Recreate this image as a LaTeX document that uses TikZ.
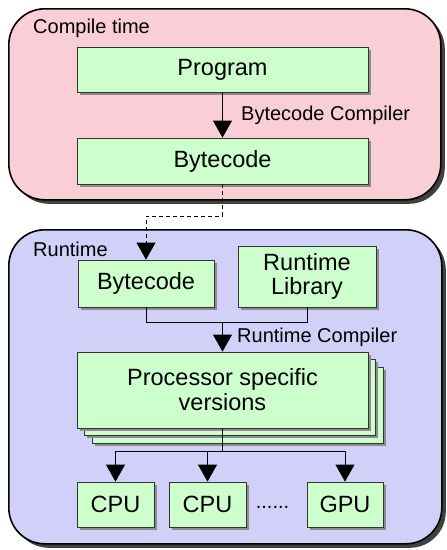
\documentclass[tikz,border=0pt]{standalone}
\usepackage{fontspec}
\setmainfont{Liberation Sans}
\usetikzlibrary{shadows,arrows.meta}
\definecolor{pinkbg}{RGB}{250,206,214}
\definecolor{bluebg}{RGB}{208,208,248}
\definecolor{greenbox}{RGB}{204,255,204}
\begin{document}
\begin{tikzpicture}[x=1pt,y=-1pt,
  container/.style={draw=black, line width=1.6pt, rounded corners=36pt, anchor=north west, inner sep=0pt,
    drop shadow={shadow xshift=4pt, shadow yshift=-4pt, fill=black!75, opacity=1}},
  gbox/.style={draw=black!80, line width=0.8pt, fill=greenbox, inner sep=0pt, align=center,
    font=\fontsize{23.5}{26}\selectfont,
    drop shadow={shadow xshift=2.5pt, shadow yshift=-2.5pt, fill=black!45, opacity=1}},
  lbl/.style={font=\fontsize{20}{22}\selectfont, inner sep=0pt},
  conn/.style={line width=0.8pt},
  arr/.style={line width=0.8pt, -{Triangle[width=19pt,length=17pt]}}
]
\useasboundingbox (0,0) rectangle (447,550);
% containers
\node[container, fill=pinkbg, minimum width=432pt, minimum height=191pt] (ct) at (8,8) {};
\node[container, fill=bluebg, minimum width=433pt, minimum height=314pt] (rt) at (8,229) {};
\node[lbl, anchor=west] (ctl) at (33,28) {Compile time};
\node[lbl, anchor=west] (rtl) at (33,249) {Runtime};
% compile time
\node[gbox, minimum width=291pt, minimum height=45pt] (prog) at (222.5,69.5) {Program};
\node[gbox, minimum width=291pt, minimum height=46pt] (bc1) at (222.5,161) {Bytecode};
\draw[arr] (prog) -- (bc1);
\node[lbl, anchor=west] (bcc) at (241,115) {Bytecode Compiler};
% runtime
\node[gbox, minimum width=136pt, minimum height=47pt] (bc2) at (146,283.5) {Bytecode};
\node[gbox, minimum width=138pt, minimum height=61pt] (lib) at (307,276.5) {Runtime\\[-2pt]Library};
\coordinate (d1) at (222.5,216);
\coordinate (d2) at (146,216);
\draw[conn, dashed, dash pattern=on 4pt off 3pt, -{Triangle[width=19pt,length=17pt]}] (bc1.south) -- (d1) -- (d2) -- (bc2.north);
\coordinate (j1) at (146,322);
\coordinate (j2) at (307,322);
\coordinate (jm) at (222.5,322);
\draw[conn] (bc2.south) -- (j1) -- (j2) -- (lib.south);
% processor stack
\node[gbox, minimum width=291pt, minimum height=76pt] (p3) at (237.5,405) {};
\node[gbox, minimum width=291pt, minimum height=76pt] (p2) at (230,397.5) {};
\node[gbox, minimum width=291pt, minimum height=76pt] (proc) at (222.5,390) {Processor specific\\[-1pt]versions};
\draw[arr] (jm) -- (proc.north);
\node[lbl, anchor=west] (rtc) at (237,337) {Runtime Compiler};
% CPUs
\node[gbox, minimum width=77pt, minimum height=45pt] (cpu1) at (115.5,504.5) {CPU};
\node[gbox, minimum width=77pt, minimum height=45pt] (cpu2) at (207.5,504.5) {CPU};
\node[gbox, minimum width=76pt, minimum height=45pt] (gpu) at (345,504.5) {GPU};
\node[lbl] (dots) at (272.5,507) {......};
\coordinate (b0) at (222.5,451);
\coordinate (b1) at (115.5,451);
\coordinate (b2) at (207.5,451);
\coordinate (b3) at (345,451);
\draw[conn] (proc.south) -- (b0);
\draw[conn] (b1) -- (b3);
\draw[arr] (b1) -- (cpu1.north);
\draw[arr] (b2) -- (cpu2.north);
\draw[arr] (b3) -- (gpu.north);
\end{tikzpicture}
\end{document}
